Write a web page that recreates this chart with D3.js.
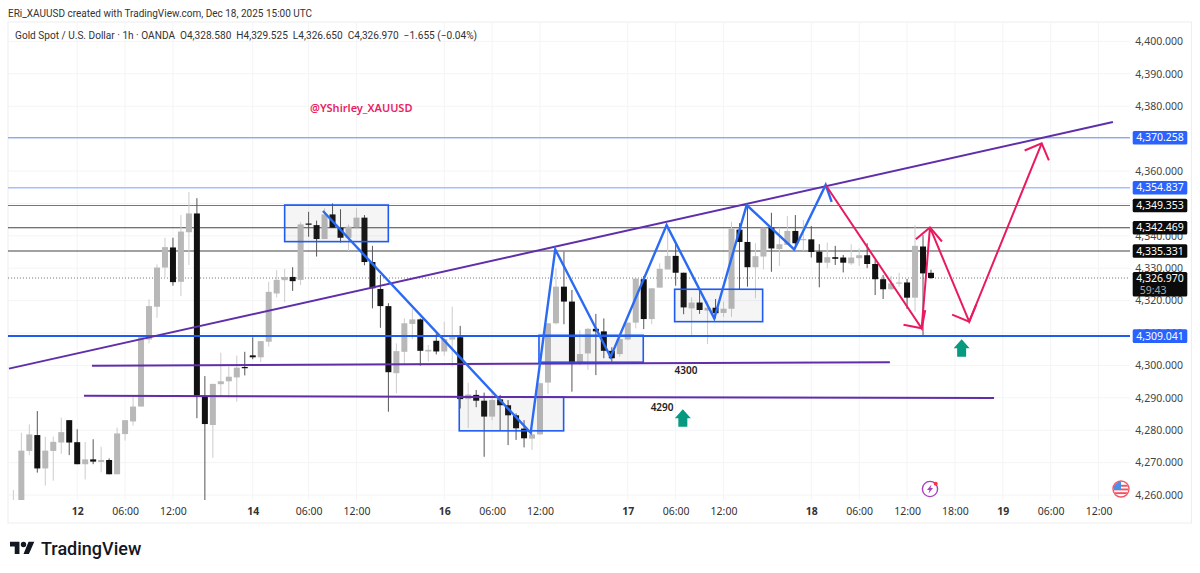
<!DOCTYPE html>
<html>
<head>
<meta charset="utf-8">
<script src="https://cdn.jsdelivr.net/npm/d3@7"></script>
<style>
  html, body { margin: 0; padding: 0; background: #fff; }
  svg { display: block; }
  text { font-family: "Noto Sans", sans-serif; }
</style>
</head>
<body>
<div id="chart"></div>
<script>
// candles, one hour each. bar numbers run from firstBar, bar 0 is the "12" tick
const firstBar = -8;
const opens = [
  4255, 4257.5, 4273.6, 4278.5, 4268.2, 4273.6, 4276.2, 4283.1, 4276.3, 4269.5,
  4271, 4270.2, 4270.8, 4266.4, 4278.8, 4282.7, 4287.3, 4308, 4318.1, 4330.2,
  4336.4, 4325.8, 4341.1, 4346.9, 4290.6, 4281.6, 4294.2, 4295.1, 4296.3, 4299.5,
  4303.1, 4302.5, 4307.3, 4322.2, 4326.3, 4327.3, 4326.4, 4343.8, 4343.3, 4339,
  4346.6, 4342.5, 4339.4, 4342.6, 4345.6, 4331.9, 4323.6, 4318.3, 4297.6, 4304.2,
  4312.8, 4314.2, 4304.3, 4307.6, 4304.3, 4308, 4308.7, 4289.6, 4290.9, 4289.1,
  4284.2, 4289.5, 4287.7, 4284.6, 4280.5, 4277.4, 4278.7, 4294.7, 4313, 4324.3,
  4319.7, 4300.6, 4303.7, 4311.3, 4310.5, 4304.5, 4303.5, 4308, 4313.2, 4326.6,
  4314.3, 4324, 4329.6, 4333.8, 4328.6, 4317.6, 4319.4, 4316.9, 4317.8, 4316.2,
  4317.5, 4341.9, 4338.1, 4330.3, 4333.6, 4342.5, 4335.9, 4337.2, 4341.5, 4338.7,
  4338.9, 4335.1, 4331.7, 4333.4, 4333.3, 4331.5, 4333.1, 4334, 4331.3, 4326.6,
  4323.5, 4325.3, 4325.6, 4320.9, 4336.7, 4328.58
];
const highs = [
  4261.5, 4279.2, 4281.8, 4285.9, 4278, 4278, 4283.9, 4283.1, 4280.3, 4276.4,
  4277.2, 4274.9, 4271.3, 4280.8, 4283.1, 4290.6, 4308.7, 4320.4, 4331.2, 4339.4,
  4339.4, 4346.4, 4353.5, 4351.6, 4296.7, 4294.3, 4303.9, 4299.6, 4303, 4304.2,
  4308.7, 4307.5, 4325.8, 4329.4, 4329.8, 4330.3, 4344.2, 4347.4, 4344.7, 4348.5,
  4350, 4348.2, 4343.5, 4348.5, 4346.4, 4336.9, 4327.9, 4319.2, 4306.8, 4314.5,
  4317.4, 4314.5, 4306.3, 4309.9, 4313.5, 4318.1, 4312.2, 4294.7, 4292.4, 4291.6,
  4291.9, 4290.9, 4289.3, 4285.2, 4283.1, 4279.9, 4294.7, 4313, 4330, 4335.1,
  4323.3, 4310.9, 4311.5, 4315.9, 4314.5, 4305.6, 4308.9, 4313.2, 4326.8, 4327.6,
  4323.8, 4331.5, 4342.8, 4338.2, 4328.6, 4321, 4323.3, 4319.7, 4320.5, 4319.7,
  4344.3, 4343.9, 4349.5, 4337.7, 4342.5, 4347.1, 4342.5, 4346.1, 4346.4, 4344.9,
  4343, 4337.4, 4337.9, 4336.9, 4334.1, 4337.4, 4336.1, 4337.7, 4332.5, 4327.9,
  4327.6, 4328.6, 4326.7, 4343.3, 4340.2, 4329.525
];
const lows = [
  4252, 4256, 4272.3, 4266.9, 4262.9, 4264.4, 4272.7, 4272.3, 4269.5, 4264.8,
  4269.5, 4267, 4266.4, 4266.4, 4276.8, 4281.4, 4287.3, 4306.8, 4314.7, 4327.2,
  4324.6, 4321.4, 4331, 4283.7, 4254, 4271.5, 4290.6, 4290.1, 4288.8, 4296.9,
  4301.9, 4301, 4305.8, 4321, 4319.5, 4323, 4324.8, 4339.7, 4333.6, 4339,
  4342.5, 4337.9, 4335.3, 4342.6, 4330.9, 4317.6, 4311.6, 4285.7, 4291.4, 4300.1,
  4308.1, 4299.9, 4301.2, 4303.4, 4303, 4299.6, 4286.7, 4280.7, 4287.1, 4271.8,
  4283.1, 4279.9, 4275.4, 4277, 4274.7, 4273.9, 4278.7, 4291.2, 4312.7, 4312.7,
  4291.9, 4300.1, 4298.6, 4297, 4302.2, 4300.6, 4302.7, 4307.8, 4311.4, 4311.2,
  4312.7, 4324, 4329.6, 4324.6, 4315.8, 4308.7, 4315.9, 4306.6, 4314.5, 4315,
  4315, 4323.5, 4324.3, 4320.7, 4329.6, 4328.9, 4330.7, 4337.2, 4336.1, 4335.3,
  4333.3, 4324.1, 4330, 4331, 4328.7, 4331, 4330.7, 4330, 4321.7, 4320.5,
  4323.3, 4324.3, 4317.4, 4316.6, 4308.9, 4326.65
];
const closes = [
  4258, 4273.7, 4278.7, 4268.2, 4273.7, 4276.4, 4279.4, 4276.2, 4269.5, 4271,
  4270.3, 4270.8, 4266.4, 4279, 4283.1, 4287.3, 4308.7, 4318.3, 4330.2, 4336.5,
  4325.7, 4341.3, 4346.9, 4290.7, 4281.9, 4294.3, 4295.1, 4296.5, 4299.3, 4299.2,
  4302.5, 4307.5, 4322.7, 4326.4, 4327.3, 4326, 4343.5, 4343.4, 4339, 4346.6,
  4342.5, 4339.4, 4342.8, 4345.6, 4331.9, 4323.8, 4318.3, 4297.9, 4304.4, 4313,
  4314.2, 4304.5, 4304.8, 4304.3, 4308.1, 4308.7, 4289.6, 4291, 4289.1, 4284.2,
  4289.3, 4287.7, 4284.6, 4280.6, 4277.5, 4278.7, 4294.5, 4313, 4324.3, 4319.7,
  4300.6, 4303.5, 4311.3, 4310.5, 4304.5, 4302.2, 4308.1, 4313.2, 4326.8, 4314.3,
  4323.8, 4329.8, 4333.8, 4328.6, 4317.9, 4319.4, 4317.1, 4317.8, 4316.1, 4317.5,
  4342.2, 4338.1, 4330.3, 4333.7, 4342.5, 4336.1, 4337.4, 4341.5, 4337.7, 4339,
  4335, 4331.7, 4333.4, 4332.9, 4331.7, 4333.3, 4334, 4331.3, 4326.6, 4323.5,
  4325.3, 4325.6, 4320.9, 4336.9, 4328.4, 4326.97
];

// axis ticks
const priceTicks = d3.range(4260, 4401, 10);
const timeBars = [0, 6, 12, 22, 29, 35, 46, 52, 58, 69, 75, 81, 92, 98, 104, 110, 116, 122, 128];
const timeLabels = ["12", "06:00", "12:00", "14", "06:00", "12:00", "16", "06:00", "12:00", "17", "06:00", "12:00", "18", "06:00", "12:00", "18:00", "19", "06:00", "12:00"];

// horizontal levels that carry a price tag
const blueLevels = [4370.258, 4354.837, 4309.041];
const blackLevels = [4349.353, 4342.469, 4335.331];
const lastPrice = 4326.97;

// drawings, points are [bar, price]
const trendLine = [[-8.55, 4299], [129.8, 4375.1]];
const line4300 = [[1.85, 4299.9], [101.85, 4301]];
const line4290 = [[0.85, 4290.6], [114.9, 4289.9]];
const blueZigzag = [[30.8, 4347.65], [56.83, 4279.2], [59.91, 4335.8], [66.85, 4302.6], [73.87, 4343.3], [79.84, 4314.5], [83.9, 4349.5], [89.86, 4335.8], [93.8, 4355.7], [94.55, 4350.5]];
const pinkPath = [[93.8, 4355.7], [105.83, 4311.45], [106.87, 4342.6], [111.79, 4313.5], [120.87, 4368.55]];
const boxes = [[26, 38.99, 4349.5, 4338.2], [47.88, 60.96, 4290.2, 4279.8], [57.87, 70.94, 4309.3, 4301], [74.87, 85.9, 4323.5, 4313.5]];
const upArrows = [[110.84, 4308.05], [75.9, 4286.5]];
const notes = [
  { text: "4300", bar: 76.3, price: 4298.3 },
  { text: "4290", bar: 73.3, price: 4286.9 }
];
const handle = { text: "@YShirley_XAUUSD", bar: 35.6, price: 4379.4 };

const W = 1200, H = 573;
const paneLeft = 8, paneRight = 1130, paneTop = 23, paneBottom = 500, frameRight = 1191.5, frameBottom = 523;

const x = d3.scaleLinear().domain([0, 107]).range([77.2, 931]);
const y = d3.scaleLinear().domain([4260, 4400]).range([495, 41.4]);
const pt = d => [x(d[0]), y(d[1])];

const svg = d3.select("#chart").append("svg").attr("width", W).attr("height", H);
svg.append("clipPath").attr("id", "pane").append("rect")
  .attr("x", paneLeft).attr("y", paneTop).attr("width", paneRight - paneLeft).attr("height", paneBottom - paneTop);

// header
svg.append("text").attr("x", 8).attr("y", 17).attr("font-size", 10).attr("fill", "#333")
  .style("font-family", "Roboto, sans-serif")
  .text("ERi_XAUUSD created with TradingView.com, Dec 18, 2025 15:00 UTC");

// frame
svg.append("rect").attr("x", paneLeft).attr("y", paneTop - 1).attr("width", frameRight - paneLeft).attr("height", frameBottom - paneTop + 1)
  .attr("fill", "#fff").attr("stroke", "#eeeeee");

// grid
svg.append("g").selectAll("line").data(priceTicks).join("line")
  .attr("x1", paneLeft).attr("x2", paneRight).attr("y1", d => y(d)).attr("y2", d => y(d)).attr("stroke", "#f3f4f6");
svg.append("g").selectAll("line").data(timeBars).join("line")
  .attr("x1", d => x(d)).attr("x2", d => x(d)).attr("y1", paneTop).attr("y2", paneBottom).attr("stroke", "#f3f4f6");

// axes
const yAxis = svg.append("g").attr("transform", "translate(1183,0)")
  .call(d3.axisRight(y).tickValues(priceTicks).tickSize(0).tickPadding(0).tickFormat(d => d3.format(",.3f")(d)));
yAxis.select(".domain").remove();
yAxis.selectAll("text").attr("text-anchor", "end").attr("font-size", 10.5).attr("fill", "#444").attr("font-family", '"Noto Sans", sans-serif');

const xAxis = svg.append("g").attr("transform", "translate(0,505)")
  .call(d3.axisBottom(x).tickValues(timeBars).tickSize(0).tickPadding(3).tickFormat((d, i) => timeLabels[i]));
xAxis.select(".domain").remove();
xAxis.selectAll("text").attr("font-size", 10.5).attr("fill", "#333").attr("font-family", '"Noto Sans", sans-serif')
  .attr("font-weight", (d, i) => timeLabels[i].includes(":") ? 400 : 700);

// ohlc title
svg.append("text").attr("x", 15).attr("y", 39).attr("font-size", 10.1).attr("fill", "#333")
  .style("font-family", "Roboto, sans-serif").style("white-space", "pre")
  .text("Gold Spot / U.S. Dollar · 1h · OANDA  O4,328.580  H4,329.525  L4,326.650  C4,326.970  −1.655 (−0.04%)");

const pane = svg.append("g").attr("clip-path", "url(#pane)");

// levels under the candles
pane.append("line").attr("x1", paneLeft).attr("x2", paneRight).attr("y1", y(lastPrice)).attr("y2", y(lastPrice))
  .attr("stroke", "#777").attr("stroke-dasharray", "1 2");
pane.selectAll(".black").data(blackLevels).join("line").attr("class", "black")
  .attr("x1", paneLeft).attr("x2", paneRight).attr("y1", d => y(d)).attr("y2", d => y(d))
  .attr("stroke", (d, i) => i == 0 ? "#777" : "#444").attr("stroke-width", 1.1);

// candles
const bars = opens.map((o, i) => ({ bar: firstBar + i, o: o, h: highs[i], l: lows[i], c: closes[i] }));
const candle = pane.append("g").selectAll("g").data(bars).join("g");
candle.append("line")
  .attr("x1", d => x(d.bar)).attr("x2", d => x(d.bar))
  .attr("y1", d => y(d.h)).attr("y2", d => y(d.l))
  .attr("stroke", d => d.c < d.o ? "#555" : "#cccccc");
candle.append("rect")
  .attr("x", d => x(d.bar) - 3).attr("width", 6)
  .attr("y", d => y(Math.max(d.o, d.c)))
  .attr("height", d => Math.max(1.2, Math.abs(y(d.o) - y(d.c))))
  .attr("fill", d => d.c < d.o ? "#111" : "#b8b8b8");

// blue levels
pane.selectAll(".blue").data(blueLevels).join("line").attr("class", "blue")
  .attr("x1", paneLeft).attr("x2", paneRight).attr("y1", d => y(d)).attr("y2", d => y(d))
  .attr("stroke", (d, i) => ["#5f8dff", "#a6c0ff", "#1f5bf0"][i]).attr("stroke-width", (d, i) => [1, 1.5, 2][i]);

// boxes
pane.selectAll(".box").data(boxes).join("rect").attr("class", "box")
  .attr("x", d => x(d[0])).attr("width", d => x(d[1]) - x(d[0]))
  .attr("y", d => y(d[2])).attr("height", d => y(d[3]) - y(d[2]))
  .attr("fill", "rgba(120,120,120,0.07)").attr("stroke", "#1f5bf0").attr("stroke-width", 1.6);

const lineGen = d3.line().x(d => x(d[0])).y(d => y(d[1]));

// purple lines
pane.selectAll(".purple").data([trendLine, line4300, line4290]).join("path").attr("class", "purple")
  .attr("d", lineGen).attr("fill", "none").attr("stroke", "#5f2eaa").attr("stroke-width", 2);

pane.append("path").datum(blueZigzag).attr("d", lineGen)
  .attr("fill", "none").attr("stroke", "#2b6bf3").attr("stroke-width", 2.4).attr("stroke-linejoin", "miter");

pane.append("path").datum(pinkPath).attr("d", lineGen)
  .attr("fill", "none").attr("stroke", "#ea1a5e").attr("stroke-width", 2).attr("stroke-linejoin", "miter");

// arrow heads at each pink segment end
const barbLen = 18.5, barbAngle = Math.PI / 4;
pinkPath.slice(1).forEach((p, i) => {
  const [x1, y1] = pt(pinkPath[i]), [x2, y2] = pt(p);
  const a = Math.atan2(y1 - y2, x1 - x2);
  const head = [a - barbAngle, a + barbAngle].map(t => [x2 + barbLen * Math.cos(t), y2 + barbLen * Math.sin(t)]);
  pane.append("path").attr("d", d3.line()([head[0], [x2, y2], head[1]]))
    .attr("fill", "none").attr("stroke", "#ea1a5e").attr("stroke-width", 2);
});

// green arrows, the tip sits on the data point
pane.selectAll(".up").data(upArrows).join("path").attr("class", "up")
  .attr("transform", d => `translate(${x(d[0])},${y(d[1])})`)
  .attr("d", "M0,0L8,9H4.5V17.5H-4.5V9H-8Z").attr("fill", "#089981");

// notes
pane.selectAll(".note").data(notes).join("text").attr("class", "note")
  .attr("x", d => x(d.bar)).attr("y", d => y(d.price)).attr("dy", "0.35em").attr("text-anchor", "middle")
  .attr("font-size", 10).attr("font-weight", 600).attr("fill", "#222").text(d => d.text);
pane.append("text").attr("x", x(handle.bar)).attr("y", y(handle.price)).attr("dy", "0.35em").attr("text-anchor", "middle")
  .attr("font-size", 11).attr("font-weight", 600).attr("fill", "#e91e63").text(handle.text);

// price tags
const tags = blueLevels.map(v => ({ v: v, bg: "#2962ff" })).concat(blackLevels.map(v => ({ v: v, bg: "#0b0b0b" })));
const tag = svg.append("g").selectAll("g").data(tags).join("g")
  .attr("transform", d => `translate(1132.7,${y(d.v)})`);
tag.append("rect").attr("y", -6.8).attr("width", 54.6).attr("height", 13.6).attr("rx", 1.5).attr("fill", d => d.bg);
tag.append("text").attr("x", 27.3).attr("dy", "0.35em").attr("text-anchor", "middle")
  .attr("font-size", 10.5).attr("fill", "#fff").text(d => d3.format(",.3f")(d.v));

const lastTag = svg.append("g").attr("transform", `translate(1132.7,${y(lastPrice)})`);
lastTag.append("rect").attr("y", -6).attr("width", 54.6).attr("height", 24.4).attr("rx", 1.5).attr("fill", "#0b0b0b");
lastTag.append("text").attr("x", 27.3).attr("dy", "0.35em").attr("text-anchor", "middle").attr("font-size", 10.5).attr("fill", "#fff").text(d3.format(",.3f")(lastPrice));
lastTag.append("text").attr("x", 7).attr("y", 12).attr("dy", "0.35em").attr("font-size", 10.5).attr("fill", "#aaa").text("59:43");

// event icons on the time edge
const bolt = svg.append("g").attr("transform", "translate(930,489)");
bolt.append("circle").attr("r", 7.6).attr("fill", "#fff").attr("stroke", "#a83fc0").attr("stroke-width", 1.4);
bolt.append("path").attr("d", "M1.5,-4.5L-3,1H-0.5L-1.5,4.5L3,-1H0.5Z").attr("fill", "#a83fc0");
bolt.append("circle").attr("cx", 5.7).attr("cy", -5.3).attr("r", 2).attr("fill", "#f23645");

const flag = svg.append("g").attr("transform", "translate(1121,489)");
flag.append("clipPath").attr("id", "flagClip").append("circle").attr("r", 7.4);
const flagBody = flag.append("g").attr("clip-path", "url(#flagClip)");
flagBody.append("rect").attr("x", -8).attr("y", -8).attr("width", 16).attr("height", 16).attr("fill", "#fff");
flagBody.selectAll(".stripe").data([-4.2, -0.5, 3.2]).join("rect").attr("class", "stripe")
  .attr("x", -8).attr("width", 16).attr("y", d => d).attr("height", 1.9).attr("fill", "#ef5361");
flagBody.append("rect").attr("x", -8).attr("y", -8).attr("width", 8).attr("height", 8).attr("fill", "#4a8fe8");
flag.append("circle").attr("r", 8).attr("fill", "none").attr("stroke", "#f0596a").attr("stroke-width", 1.4);

// logo
const logo = svg.append("g").attr("transform", "translate(10,537) scale(0.675)").attr("fill", "#131722");
logo.append("path").attr("d", "M14 25H7V14H0V7h14v18zM28 25h-8l7.5-18H36L28 25z");
logo.append("circle").attr("cx", 20).attr("cy", 11).attr("r", 4);
svg.append("text").attr("x", 41).attr("y", 555).attr("font-size", 18).attr("font-weight", 500)
  .attr("fill", "#131722").style("font-family", "Roboto, sans-serif").text("TradingView");
</script>
</body>
</html>
